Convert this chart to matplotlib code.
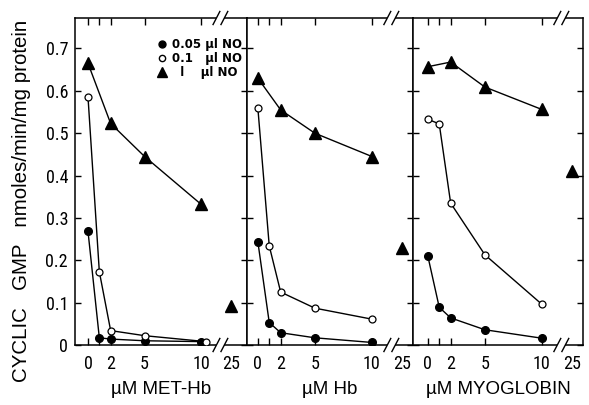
import matplotlib
matplotlib.use("Agg")
import matplotlib.pyplot as plt
from matplotlib.lines import Line2D
import matplotlib.transforms as mtransforms
from matplotlib import font_manager as fm

# ---------------- data ----------------
x_conc = [0, 1, 2, 5, 10]
x_break = 25
panel_titles = ["\u00b5M MET-Hb", "\u00b5M Hb", "\u00b5M MYOGLOBIN"]
legend_labels = ["0.05 \u00b5l NO", "0.1   \u00b5l NO", "  l    \u00b5l NO"]

# MET-Hb
methb_005 = [0.268, 0.017, 0.014, 0.010, 0.008]
methb_01_x = [0, 1, 2, 5, 10.4]
methb_01 = [0.585, 0.173, 0.034, 0.022, 0.008]
methb_1_x = [0, 2, 5, 10]
methb_1 = [0.665, 0.523, 0.445, 0.332]
methb_1_25 = 0.093

# Hb
hb_005 = [0.244, 0.053, 0.029, 0.017, 0.006]
hb_01 = [0.560, 0.234, 0.125, 0.087, 0.061]
hb_1_x = [0, 2, 5, 10]
hb_1 = [0.630, 0.555, 0.500, 0.445]
hb_1_25 = 0.230

# Myoglobin
mb_005 = [0.210, 0.089, 0.064, 0.036, 0.016]
mb_01 = [0.533, 0.522, 0.335, 0.213, 0.096]
mb_1_x = [0, 2, 5, 10]
mb_1 = [0.657, 0.668, 0.609, 0.556]
mb_1_25 = 0.410

yticks = [0, 0.1, 0.2, 0.3, 0.4, 0.5, 0.6, 0.7]
ytick_labels = ["0", "0.1", "0.2", "0.3", "0.4", "0.5", "0.6", "0.7"]
xtick_labels = ["0", "", "2", "5", "10"]

# position on the broken axis where "25" is drawn
POS25 = 12.6

panels = [
    (methb_005, methb_01_x, methb_01, methb_1_x, methb_1, methb_1_25),
    (hb_005, x_conc, hb_01, hb_1_x, hb_1, hb_1_25),
    (mb_005, x_conc, mb_01, mb_1_x, mb_1, mb_1_25),
]

# pick a condensed font if one is installed
names = {f.name for f in fm.fontManager.ttflist}
cond = None
for cand in ["Liberation Sans Narrow", "Roboto Condensed", "Open Sans Condensed",
             "DejaVu Sans Condensed", "Noto Sans Condensed"]:
    if cand in names:
        cond = cand
        break
if cond is None:
    tick_font = dict(family=["DejaVu Sans"], size=13, stretch="condensed")
else:
    tick_font = dict(family=[cond, "DejaVu Sans"], size=13)

W, H = 589, 405
fig = plt.figure(figsize=(W / 100, H / 100), dpi=100)
fig.patch.set_facecolor("white")

bounds = [(75, 247), (247, 413), (413, 583)]
xlims = [(-1.15, 14.05), (-0.95, 13.6), (-1.3, 13.6)]
top_px, bot_px = 18, 345
ymax = 0.772

lab_font = dict(family=["Liberation Sans", "DejaVu Sans"], size=13.5)

axes = []
for i, ((l, r), (d005, x01, d01, x1, d1, d25)) in enumerate(zip(bounds, panels)):
    ax = fig.add_axes([l / W, 1 - bot_px / H, (r - l) / W, (bot_px - top_px) / H])
    axes.append(ax)
    ax.set_xlim(*xlims[i])
    ax.set_ylim(0, ymax)
    for sp in ax.spines.values():
        sp.set_linewidth(1.1)

    ax.plot(x_conc, d005, "-", color="black", lw=1.0, marker="o", ms=5.5,
            mfc="black", mec="black", zorder=3)
    ax.plot(x01, d01, "-", color="black", lw=1.0, marker="o", ms=5,
            mfc="white", mec="black", mew=0.9, zorder=3)
    ax.plot(x1, d1, "-", color="black", lw=1.0, marker="^", ms=8.5,
            mfc="black", mec="black", zorder=3)
    ax.plot([POS25], [d25], linestyle="none", marker="^", ms=8.5,
            mfc="black", mec="black", zorder=3)

    ax.set_xticks(x_conc)
    ax.set_xticklabels(xtick_labels, **tick_font)
    ax.set_xticks([POS25], labels=["25"], minor=True, **tick_font)
    ax.tick_params(axis="x", which="major", direction="in", top=True,
                   length=5, width=1.0, pad=7)
    ax.tick_params(axis="x", which="minor", length=0, pad=7)
    ax.set_yticks(yticks)
    ax.tick_params(axis="y", direction="in", left=True, right=True,
                   length=4, width=1.0)
    if i == 0:
        ax.set_yticklabels(ytick_labels, **tick_font)
        ax.tick_params(axis="y", pad=5)
    else:
        ax.set_yticklabels([])

    ax.set_xlabel(panel_titles[i], labelpad=6, **lab_font)

    # axis break marks on top and bottom spines
    trans = mtransforms.blended_transform_factory(ax.transData, ax.transAxes)
    b0, b1 = 11.35, 12.05
    for yb in (0, 1):
        ax.plot([b0, b1], [yb, yb], color="white", lw=3, transform=trans,
                clip_on=False, zorder=5, solid_capstyle="butt")
        for xb in (b0, b1):
            ax.plot([xb - 0.3, xb + 0.3], [yb - 0.02, yb + 0.02], color="black",
                    lw=1.0, transform=trans, clip_on=False, zorder=6)

# legend in first panel
ax0 = axes[0]
handles = [
    Line2D([], [], linestyle="none", marker="o", ms=5, mfc="black", mec="black"),
    Line2D([], [], linestyle="none", marker="o", ms=4.5, mfc="white", mec="black"),
    Line2D([], [], linestyle="none", marker="^", ms=6.5, mfc="black", mec="black"),
]
leg = ax0.legend(handles, legend_labels, loc="upper right", frameon=False,
                 bbox_to_anchor=(1.02, 0.965), handlelength=0.8, handletextpad=0.5,
                 labelspacing=0.1, borderpad=0.2,
                 prop=dict(family=["DejaVu Sans"], size=8.5, weight="bold"))

fig.text(22 / W, 0.505, "CYCLIC   GMP   nmoles/min/mg protein", rotation=90,
         ha="center", va="center", family=["Liberation Sans", "DejaVu Sans"],
         size=14.8)

fig.savefig("out.png", dpi=100, facecolor="white")
